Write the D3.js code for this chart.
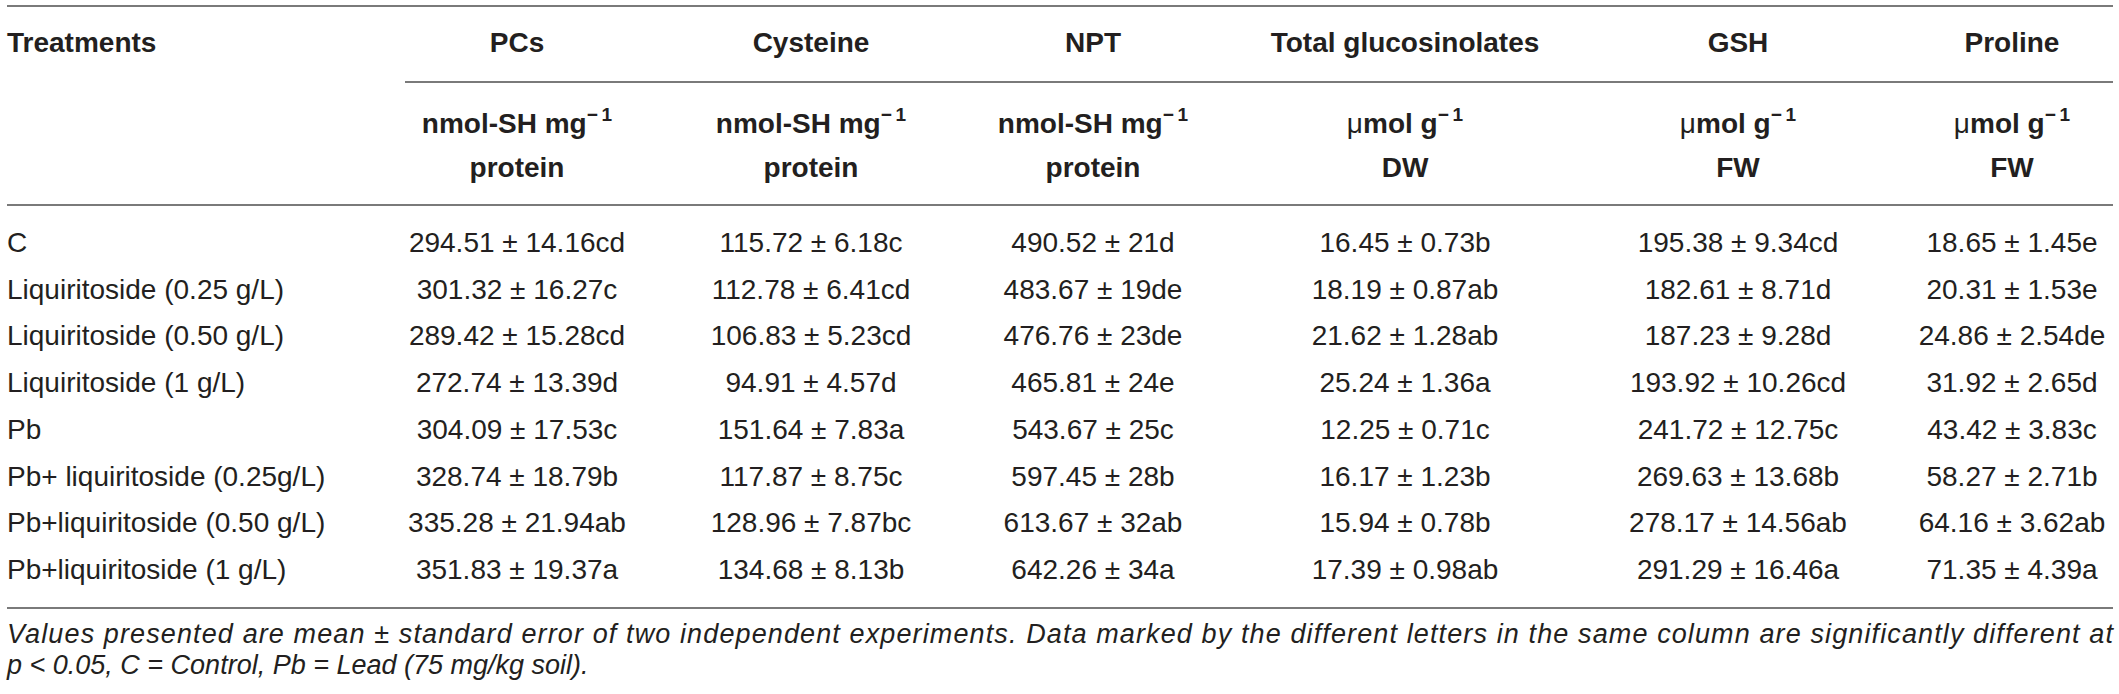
<!DOCTYPE html>
<html>
<head>
<meta charset="utf-8">
<script src="https://cdn.jsdelivr.net/npm/d3@7"></script>
<style>
    body { margin: 0; background: #fff; }
    svg { display: block; font-family: "Liberation Sans", Arial, sans-serif; }
</style>
</head>
<body>
<svg id="table" width="2119" height="694"></svg>
<script>
"use strict";

const treatments = [
    "C",
    "Liquiritoside (0.25 g/L)",
    "Liquiritoside (0.50 g/L)",
    "Liquiritoside (1 g/L)",
    "Pb",
    "Pb+ liquiritoside (0.25g/L)",
    "Pb+liquiritoside (0.50 g/L)",
    "Pb+liquiritoside (1 g/L)"
];

const measures = ["PCs", "Cysteine", "NPT", "Total glucosinolates", "GSH", "Proline"];
const unitPrefix = ["", "", "", "\u03bc", "\u03bc", "\u03bc"];
const unitMain = ["nmol-SH mg", "nmol-SH mg", "nmol-SH mg", "mol g", "mol g", "mol g"];
const unitBasis = ["protein", "protein", "protein", "DW", "FW", "FW"];

const pcs = ["294.51", "301.32", "289.42", "272.74", "304.09", "328.74", "335.28", "351.83"];
const pcsSE = ["14.16", "16.27", "15.28", "13.39", "17.53", "18.79", "21.94", "19.37"];
const pcsLetter = ["cd", "c", "cd", "d", "c", "b", "ab", "a"];

const cysteine = ["115.72", "112.78", "106.83", "94.91", "151.64", "117.87", "128.96", "134.68"];
const cysteineSE = ["6.18", "6.41", "5.23", "4.57", "7.83", "8.75", "7.87", "8.13"];
const cysteineLetter = ["c", "cd", "cd", "d", "a", "c", "bc", "b"];

const npt = ["490.52", "483.67", "476.76", "465.81", "543.67", "597.45", "613.67", "642.26"];
const nptSE = ["21", "19", "23", "24", "25", "28", "32", "34"];
const nptLetter = ["d", "de", "de", "e", "c", "b", "ab", "a"];

const glucosinolates = ["16.45", "18.19", "21.62", "25.24", "12.25", "16.17", "15.94", "17.39"];
const glucosinolatesSE = ["0.73", "0.87", "1.28", "1.36", "0.71", "1.23", "0.78", "0.98"];
const glucosinolatesLetter = ["b", "ab", "ab", "a", "c", "b", "b", "ab"];

const gsh = ["195.38", "182.61", "187.23", "193.92", "241.72", "269.63", "278.17", "291.29"];
const gshSE = ["9.34", "8.71", "9.28", "10.26", "12.75", "13.68", "14.56", "16.46"];
const gshLetter = ["cd", "d", "d", "cd", "c", "b", "ab", "a"];

const proline = ["18.65", "20.31", "24.86", "31.92", "43.42", "58.27", "64.16", "71.35"];
const prolineSE = ["1.45", "1.53", "2.54", "2.65", "3.83", "2.71", "3.62", "4.39"];
const prolineLetter = ["e", "e", "de", "d", "c", "b", "ab", "a"];

const footnote = [
    "Values presented are mean \u00b1 standard error of two independent experiments. Data marked by the different letters in the same column are significantly different at",
    "p < 0.05, C = Control, Pb = Lead (75 mg/kg soil)."
];

{
    const means = [pcs, cysteine, npt, glucosinolates, gsh, proline],
        errors = [pcsSE, cysteineSE, nptSE, glucosinolatesSE, gshSE, prolineSE],
        letters = [pcsLetter, cysteineLetter, nptLetter, glucosinolatesLetter, gshLetter, prolineLetter];

    const ink = "#231f20",
        rule = "#7a7a7a",
        left = 7,
        right = 2113;

    const svg = d3.select("#table");

    // column centres follow the widths of the original table layout
    const x = d3.scaleOrdinal()
        .domain(measures)
        .range([517, 811, 1093, 1405, 1738, 2012]);

    const y = d3.scalePoint()
        .domain(treatments)
        .range([252, 579]);

    const rules = [
        [left, right, 6],
        [405, right, 82],
        [left, right, 205],
        [left, right, 608]
    ];

    svg.selectAll("line.rule")
        .data(rules)
        .join("line")
        .attr("class", "rule")
        .attr("x1", d => d[0])
        .attr("x2", d => d[1])
        .attr("y1", d => d[2])
        .attr("y2", d => d[2])
        .attr("stroke", rule)
        .attr("stroke-width", 2);

    // header
    svg.append("text")
        .attr("x", left)
        .attr("y", 52)
        .attr("font-size", 28)
        .attr("font-weight", "bold")
        .attr("fill", ink)
        .text("Treatments");

    svg.selectAll("text.head")
        .data(measures)
        .join("text")
        .attr("class", "head")
        .attr("x", d => x(d))
        .attr("y", 52)
        .attr("text-anchor", "middle")
        .attr("font-size", 28)
        .attr("font-weight", "bold")
        .attr("fill", ink)
        .text(d => d);

    const unit = svg.selectAll("text.unit")
        .data(measures)
        .join("text")
        .attr("class", "unit")
        .attr("x", d => x(d))
        .attr("y", 133)
        .attr("text-anchor", "middle")
        .attr("font-size", 28)
        .attr("font-weight", "bold")
        .attr("fill", ink);

    unit.append("tspan")
        .attr("font-weight", "normal")
        .text((d, i) => unitPrefix[i]);
    unit.append("tspan")
        .text((d, i) => unitMain[i]);
    unit.append("tspan")
        .attr("font-size", 19)
        .attr("dy", -12)
        .text("\u2212\u20091");

    svg.selectAll("text.basis")
        .data(measures)
        .join("text")
        .attr("class", "basis")
        .attr("x", d => x(d))
        .attr("y", 177)
        .attr("text-anchor", "middle")
        .attr("font-size", 28)
        .attr("font-weight", "bold")
        .attr("fill", ink)
        .text((d, i) => unitBasis[i]);

    // body
    svg.selectAll("text.label")
        .data(treatments)
        .join("text")
        .attr("class", "label")
        .attr("x", left)
        .attr("y", d => y(d))
        .attr("font-size", 28)
        .attr("fill", ink)
        .text(d => d);

    measures.forEach((m, j) => {
        svg.selectAll(`text.c${j}`)
            .data(treatments)
            .join("text")
            .attr("class", `c${j}`)
            .attr("x", x(m))
            .attr("y", d => y(d))
            .attr("text-anchor", "middle")
            .attr("font-size", 28)
            .attr("fill", ink)
            .text((d, i) => `${means[j][i]} \u00b1 ${errors[j][i]}${letters[j][i]}`);
    });

    // footnote
    svg.selectAll("text.note")
        .data(footnote)
        .join("text")
        .attr("class", "note")
        .attr("x", left)
        .attr("y", (d, i) => 643 + i * 31)
        .attr("font-size", 27)
        .attr("font-style", "italic")
        .attr("fill", ink)
        .attr("textLength", (d, i) => i === 0 ? right - left : null)
        .attr("lengthAdjust", "spacing")
        .text(d => d);
}
</script>
</body>
</html>
